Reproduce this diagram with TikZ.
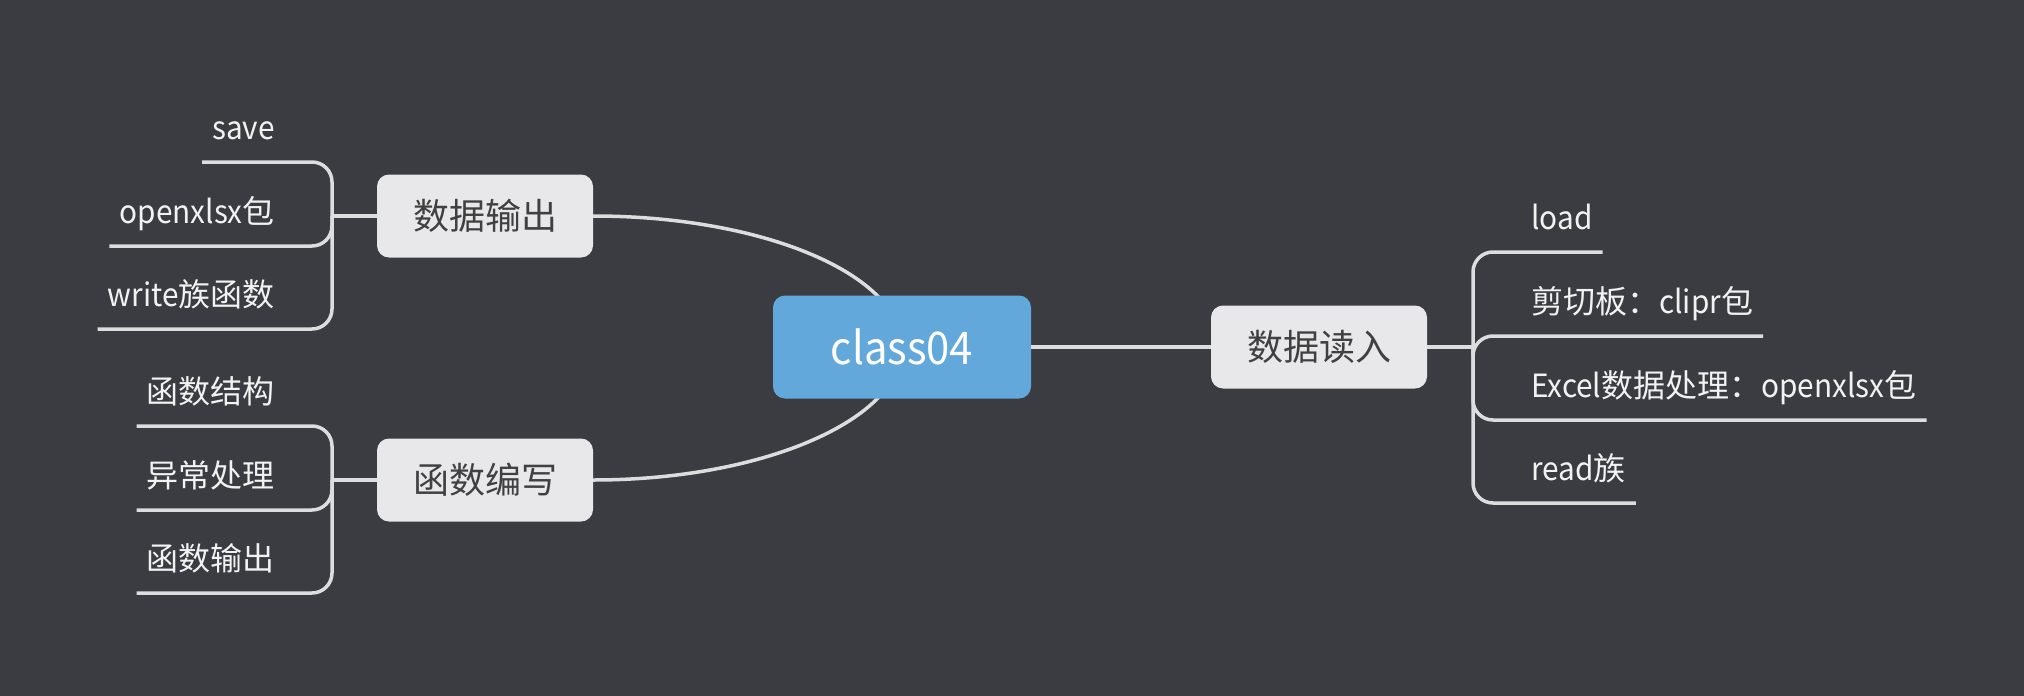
\documentclass[tikz,border=0pt]{standalone}
\usepackage{fontspec}
\setmainfont{Noto Sans CJK SC}
\newfontfamily\latinfont[FakeStretch=0.93]{Noto Sans CJK SC}
\definecolor{MMBG}{HTML}{3B3C41}
\definecolor{MMBLUE}{HTML}{63A8DA}
\definecolor{MMGREY}{HTML}{E8E8EA}
\definecolor{MMLINE}{HTML}{DDDDDF}
\definecolor{MMTEXT}{HTML}{404040}
\pgfdeclarelayer{bg}
\pgfsetlayers{bg,main}

\begin{document}
\begin{tikzpicture}[x=1pt, y=-1pt,
    root/.style={fill=MMBLUE, rounded corners=12pt, minimum width=258pt,
                 minimum height=103pt, text=white, font=\fontsize{45}{50}\latinfont},
    topic/.style={fill=MMGREY, rounded corners=12pt, minimum width=216pt,
                  minimum height=83pt, text=MMTEXT, font=\fontsize{36}{40}\selectfont},
    leaf/.style={text=white!95!black, font=\fontsize{32}{36}\selectfont,
                 inner xsep=10pt, inner ysep=0pt, text depth=22pt},
    line/.style={draw=MMLINE, line width=3.5pt},
    bracket/.style={line, rounded corners=20pt}
  ]
  \useasboundingbox (0,0) rectangle (2024,696);
  \node[root]  (root) at (902,347)   {class04};
  \node[topic] (read) at (1319,347)  {数据读入};
  \node[topic] (out)  at (485,216)   {数据输出};
  \node[topic] (func) at (485,480)   {函数编写};

  \coordinate (bl1) at (332,216);
  \coordinate (bl2) at (332,480);
  \coordinate (br)  at (1473,347);

  \node[leaf, anchor=south east] (save)  at (285,162) {{\latinfont save}};
  \node[leaf, anchor=south east] (oxls)  at (285,246) {{\latinfont openxlsx}包};
  \node[leaf, anchor=south east] (write) at (285,329) {{\latinfont write}族函数};
  \node[leaf, anchor=south east] (fstru) at (285,426) {函数结构};
  \node[leaf, anchor=south east] (ferr)  at (285,510) {异常处理};
  \node[leaf, anchor=south east] (fret)  at (285,593) {函数输出};
  \node[leaf, anchor=south west] (load)  at (1521,252) {{\latinfont load}};
  \node[leaf, anchor=south west] (clip)  at (1521,336) {剪切板：{\latinfont clipr}包};
  \node[leaf, anchor=south west] (excel) at (1521,420) {{\latinfont Excel}数据处理：{\latinfont openxlsx}包};
  \node[leaf, anchor=south west] (rfam)  at (1521,503) {{\latinfont read}族};

  \begin{pgfonlayer}{bg}
    \fill[MMBG] (0,0) rectangle (2024,696);
    \draw[line] (out.east)  .. controls +(171,0) and +(0,-72) .. (root.center);
    \draw[line] (func.east) .. controls +(171,0) and +(0,72) .. (root.center);
  \end{pgfonlayer}
  \draw[line] (root) -- (read);
  \draw[line] (out.west)  -- (bl1);
  \draw[line] (func.west) -- (bl2);
  \draw[line] (read.east) -- (br);
  \foreach \leafname in {save, oxls, write}
    \draw[bracket] (\leafname.south west) -- (\leafname.south east) -| (bl1);
  \foreach \leafname in {fstru, ferr, fret}
    \draw[bracket] (\leafname.south west) -- (\leafname.south east) -| (bl2);
  \foreach \leafname in {load, clip, excel, rfam}
    \draw[bracket] (\leafname.south east) -- (\leafname.south west) -| (br);
\end{tikzpicture}
\end{document}
